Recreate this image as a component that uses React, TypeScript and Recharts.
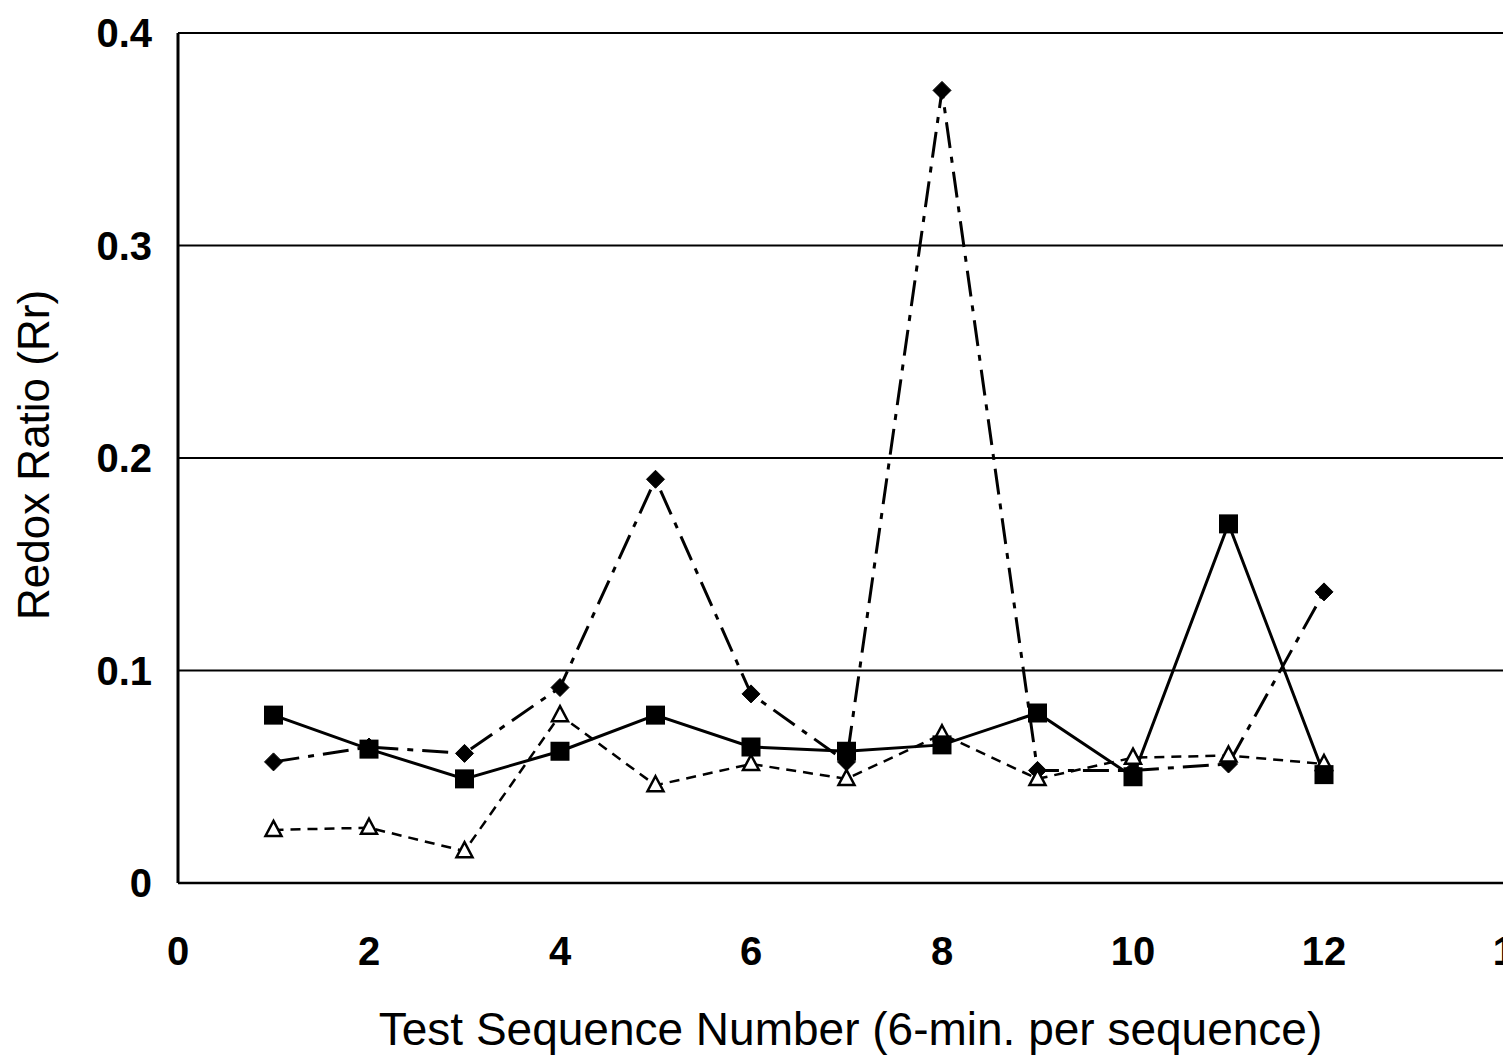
import { LineChart, Line, XAxis, YAxis, CartesianGrid, Label } from 'recharts'

// test sequence numbers
const sequence = [1, 2, 3, 4, 5, 6, 7, 8, 9, 10, 11, 12]

// redox ratio readings, one array per run
const diamondRun = [0.057, 0.064, 0.061, 0.092, 0.19, 0.089, 0.057, 0.373, 0.053, 0.053, 0.056, 0.137]
const squareRun = [0.079, 0.063, 0.049, 0.062, 0.079, 0.064, 0.062, 0.065, 0.08, 0.05, 0.169, 0.051]
const triangleRun = [0.025, 0.026, 0.015, 0.079, 0.046, 0.056, 0.049, 0.07, 0.049, 0.059, 0.06, 0.056]

const xTicks = [0, 2, 4, 6, 8, 10, 12, 14]
const yTicks = [0, 0.1, 0.2, 0.3, 0.4]

const data = sequence.map((s, i) => ({
  seq: s,
  diamond: diamondRun[i],
  square: squareRun[i],
  triangle: triangleRun[i],
}))

const FONT = 'Arial, "Liberation Sans", sans-serif'

function DiamondDot(props: any) {
  const { cx, cy, index } = props
  const r = 9
  return (
    <path
      key={`d-${index}`}
      d={`M${cx},${cy - r} L${cx + r},${cy} L${cx},${cy + r} L${cx - r},${cy} Z`}
      fill="#000"
      stroke="#000"
    />
  )
}

function SquareDot(props: any) {
  const { cx, cy, index } = props
  const s = 19
  return <rect key={`s-${index}`} x={cx - s / 2} y={cy - s / 2} width={s} height={s} fill="#000" />
}

function TriangleDot(props: any) {
  const { cx, cy, index } = props
  const h = 8
  return (
    <path
      key={`t-${index}`}
      d={`M${cx},${cy - h - 1} L${cx + h},${cy + h - 2} L${cx - h},${cy + h - 2} Z`}
      fill="#fff"
      stroke="#000"
      strokeWidth={2.5}
    />
  )
}

function XTick(props: any) {
  const { x, y, payload } = props
  return (
    <text x={x} y={y + 74} textAnchor="middle" fontFamily={FONT} fontWeight="bold" fontSize={40} fill="#000">
      {payload.value}
    </text>
  )
}

function YTick(props: any) {
  const { x, y, payload } = props
  return (
    <text x={x - 18} y={y + 14} textAnchor="end" fontFamily={FONT} fontWeight="bold" fontSize={40} fill="#000">
      {payload.value}
    </text>
  )
}

export default function App() {
  return (
    <div style={{ position: 'absolute', left: 0, top: 0, width: 1503, height: 1059, overflow: 'hidden', background: '#fff' }}>
      <LineChart width={1530} height={1059} data={data} margin={{ top: 33, right: 15, left: 0, bottom: 0 }}>
        <CartesianGrid horizontal vertical={false} stroke="#000" strokeWidth={2} />
        <XAxis
          dataKey="seq"
          type="number"
          domain={[0, 14]}
          ticks={xTicks}
          height={176}
          tick={<XTick />}
          tickLine={false}
          axisLine={{ stroke: '#000', strokeWidth: 2.5 }}
        >
          <Label
            value="Test Sequence Number (6-min. per sequence)"
            position="insideTop"
            dy={124}
            dx={4}
            style={{ fontFamily: FONT, fontSize: 46, fill: '#000' }}
          />
        </XAxis>
        <YAxis
          type="number"
          domain={[0, 0.4]}
          ticks={yTicks}
          width={178}
          tick={<YTick />}
          tickLine={false}
          axisLine={{ stroke: '#000', strokeWidth: 3 }}
        >
          <Label
            value="Redox Ratio (Rr)"
            angle={-90}
            position="insideLeft"
            dx={28}
            dy={-3}
            style={{ fontFamily: FONT, fontSize: 44, fill: '#000', textAnchor: 'middle' }}
          />
        </YAxis>
        <Line
          dataKey="diamond"
          stroke="#000"
          strokeWidth={3}
          strokeDasharray="26 9 6 9"
          dot={<DiamondDot />}
          isAnimationActive={false}
        />
        <Line
          dataKey="triangle"
          stroke="#000"
          strokeWidth={2.5}
          strokeDasharray="10 7"
          dot={<TriangleDot />}
          isAnimationActive={false}
        />
        <Line
          dataKey="square"
          stroke="#000"
          strokeWidth={3}
          dot={<SquareDot />}
          isAnimationActive={false}
        />
      </LineChart>
    </div>
  )
}
